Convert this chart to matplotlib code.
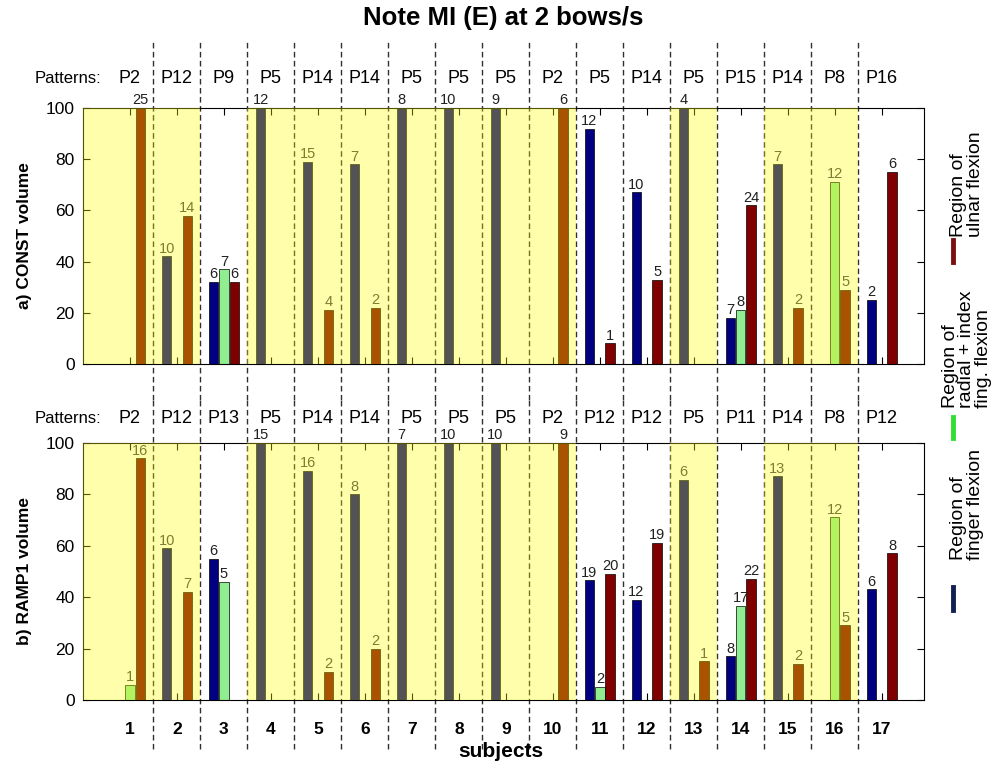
import numpy as np
import matplotlib
matplotlib.use('Agg')
import matplotlib.pyplot as plt
from matplotlib.lines import Line2D

plt.rcParams['font.family'] = ['Liberation Sans', 'DejaVu Sans']

subjects = np.arange(1, 18)
# subjects whose regions are shaded yellow (span in subject units)
shaded_spans = [(0.0, 2.5), (3.5, 10.5), (12.5, 13.5), (14.5, 16.5)]

# a) CONST volume
const_patterns = ['P2', 'P12', 'P9', 'P5', 'P14', 'P14', 'P5', 'P5', 'P5',
                  'P2', 'P5', 'P14', 'P5', 'P15', 'P14', 'P8', 'P16']
const_finger = [0, 42, 32, 100, 79, 78, 100, 100, 100, 0, 92, 67, 100, 18, 78, 0, 25]
const_finger_n = [0, 10, 6, 12, 15, 7, 8, 10, 9, 0, 12, 10, 4, 7, 7, 0, 2]
const_radial = [0, 0, 37, 0, 0, 0, 0, 0, 0, 0, 0, 0, 0, 21, 0, 71, 0]
const_radial_n = [0, 0, 7, 0, 0, 0, 0, 0, 0, 0, 0, 0, 0, 8, 0, 12, 0]
const_ulnar = [100, 58, 32, 0, 21, 22, 0, 0, 0, 100, 8, 33, 0, 62, 22, 29, 75]
const_ulnar_n = [25, 14, 6, 0, 4, 2, 0, 0, 0, 6, 1, 5, 0, 24, 2, 5, 6]

# b) RAMP1 volume
ramp_patterns = ['P2', 'P12', 'P13', 'P5', 'P14', 'P14', 'P5', 'P5', 'P5',
                 'P2', 'P12', 'P12', 'P5', 'P11', 'P14', 'P8', 'P12']
ramp_finger = [0, 59, 55, 100, 89, 80, 100, 100, 100, 0, 46.5, 39, 85.5, 17, 87, 0, 43]
ramp_finger_n = [0, 10, 6, 15, 16, 8, 7, 10, 10, 0, 19, 12, 6, 8, 13, 0, 6]
ramp_radial = [6, 0, 46, 0, 0, 0, 0, 0, 0, 0, 5, 0, 0, 36.5, 0, 71, 0]
ramp_radial_n = [1, 0, 5, 0, 0, 0, 0, 0, 0, 0, 2, 0, 0, 17, 0, 12, 0]
ramp_ulnar = [94, 42, 0, 0, 11, 20, 0, 0, 0, 100, 49, 61, 15, 47, 14, 29, 57]
ramp_ulnar_n = [16, 7, 0, 0, 2, 2, 0, 0, 0, 9, 20, 19, 1, 22, 2, 5, 8]

colors = ['#000080', '#90ee90', '#800000']
offsets = [-0.22, 0.0, 0.22]
olive = '#7d7d32'


def is_shaded(x):
    return any(a < x < b for a, b in shaded_spans)


def draw_panel(ax, patterns, series, counts, pat_y):
    for vals, ns, off, col in zip(series, counts, offsets, colors):
        for s, v, n in zip(subjects, vals, ns):
            if v <= 0:
                continue
            ax.bar(s + off, v, width=0.2, color=col, edgecolor='black',
                   linewidth=0.5, zorder=2)
            tc = olive if (is_shaded(s) and v < 100) else '#202020'
            ax.text(s + off, v + 0.3, str(n), ha='center', va='bottom',
                    fontsize=10.5, color=tc, zorder=6, clip_on=False)
    # semi-transparent yellow regions on top of bars
    for a, b in shaded_spans:
        ax.axvspan(a, b, color='#ffff00', alpha=0.33, lw=0, zorder=4)
    ax.set_xlim(0, 17.9)
    ax.set_ylim(0, 100)
    ax.set_yticks([0, 20, 40, 60, 80, 100])
    ax.set_xticks(subjects)
    ax.tick_params(direction='in', top=True, right=True, length=5,
                   labelsize=12.5, labelright=False)
    ax.tick_params(axis='y', pad=6)
    for s, p in zip(subjects, patterns):
        ax.text(s, pat_y, p, ha='center', va='center', fontsize=13,
                transform=ax.get_xaxis_transform(), clip_on=False)
    ax.text(0.38, pat_y, 'Patterns:', ha='right', va='center', fontsize=12,
            transform=ax.get_xaxis_transform(), clip_on=False)


fig = plt.figure(figsize=(10.02, 7.64), dpi=100)
ax1 = fig.add_axes([0.0828, 0.5236, 0.8394, 0.335])
ax2 = fig.add_axes([0.0828, 0.0838, 0.8394, 0.3364])

draw_panel(ax1, const_patterns, [const_finger, const_radial, const_ulnar],
           [const_finger_n, const_radial_n, const_ulnar_n], 1.117)
draw_panel(ax2, ramp_patterns, [ramp_finger, ramp_radial, ramp_ulnar],
           [ramp_finger_n, ramp_radial_n, ramp_ulnar_n], 1.097)

ax1.set_xticklabels([])
ax2.set_xticklabels([str(s) for s in subjects], fontweight='bold', fontsize=12.5)
ax2.tick_params(axis='x', pad=16)

# dashed separators between subjects, running through both panels
for k in range(1, 17):
    ax1.axvline(k + 0.5, ymin=-0.14, ymax=1.266, color='#303030',
                ls=(0, (4, 2.5)), lw=1, clip_on=False, zorder=1)
    ax2.axvline(k + 0.5, ymin=-0.19, ymax=1.17, color='#303030',
                ls=(0, (4, 2.5)), lw=1, clip_on=False, zorder=1)

fig.text(0.024, 0.6911, 'a) CONST volume', rotation=90, ha='center', va='center',
         fontsize=12.5, fontweight='bold')
fig.text(0.024, 0.252, 'b) RAMP1 volume', rotation=90, ha='center', va='center',
         fontsize=12.5, fontweight='bold')
fig.text(0.502, 0.976, 'Note MI (E) at 2 bows/s', ha='center', va='center',
         fontsize=18.5, fontweight='bold')
fig.text(0.50, 0.016, 'subjects', ha='center', va='center',
         fontsize=15, fontweight='bold')

# legend on the right side
leg_items = [('Region of\nulnar flexion', '#7a1010', 237, 240, 262),
             ('Region of\nradial + index\nfing. flexion', '#33dd33', 408, 417, 438),
             ('Region of\nfinger flexion', '#102050', 560, 587, 610)]
for label, col, y_txt, y0, y1 in leg_items:
    fig.text(0.965, 1 - y_txt / 764, label, rotation=90, ha='center', va='bottom',
             multialignment='left', fontsize=14, linespacing=0.95)
    fig.add_artist(Line2D([0.951, 0.951], [1 - y0 / 764, 1 - y1 / 764],
                          color=col, lw=3.5, transform=fig.transFigure))

fig.savefig('out.png', dpi=100)
